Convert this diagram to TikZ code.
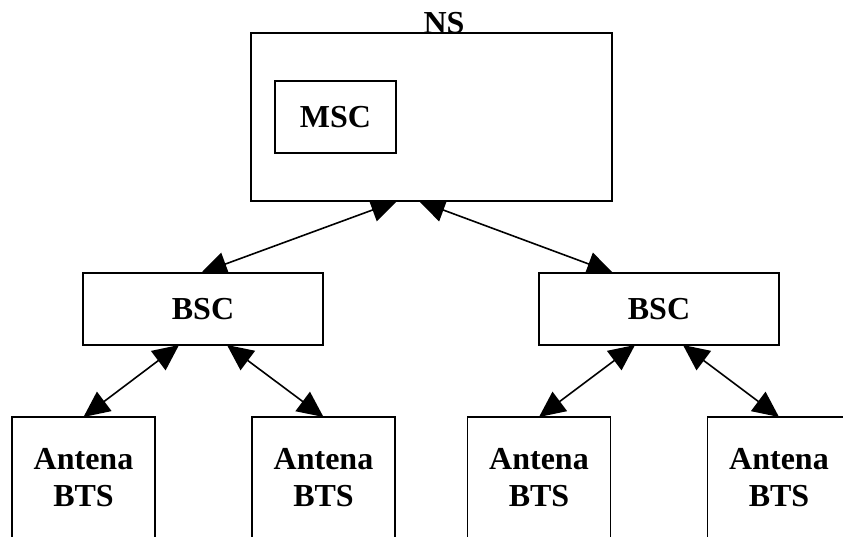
\documentclass[tikz,border=0pt]{standalone}
\usepackage{fontspec}
\setmainfont{Liberation Serif}
\usetikzlibrary{arrows.meta,backgrounds}

\begin{document}
\begin{tikzpicture}[x=1pt,y=-1pt,line width=1.5pt]
    \tikzset{box/.style={draw,rectangle,fill=white,inner sep=0pt,outer sep=0pt,
        font=\bfseries\fontsize{32}{37}\selectfont,align=center},
      link/.style={line width=1.6pt,{Triangle[length=26pt,width=24pt]}-{Triangle[length=26pt,width=24pt]}}}
    \useasboundingbox (0,0) rectangle (843,536);
    \node[box,minimum width=361pt,minimum height=168pt] (ns) at (431.5,117) {};
    \node[box,minimum width=121pt,minimum height=72pt] (msc) at (335.5,117) {MSC};
    \node[font=\bfseries\fontsize{32}{37}\selectfont,anchor=base,inner sep=0pt] (nslabel) at (444,33) {NS};
    \node[box,minimum width=240pt,minimum height=72pt] (bscl) at (203,309) {BSC};
    \node[box,minimum width=240pt,minimum height=72pt] (bscr) at (659,309) {BSC};
    \node[box,minimum width=143pt,minimum height=121pt] (bts1) at (83.5,477.5) {Antena\\BTS};
    \node[box,minimum width=143pt,minimum height=121pt] (bts2) at (323.5,477.5) {Antena\\BTS};
    \node[box,minimum width=143pt,minimum height=121pt] (bts3) at (539,477.5) {Antena\\BTS};
    \node[box,minimum width=143pt,minimum height=121pt] (bts4) at (779,477.5) {Antena\\BTS};
    \begin{pgfonlayer}{background}
    \path[link]
      ([xshift=-34.5pt]ns.south) edge ([xshift=-2pt]bscl.north)
      ([xshift=-12.5pt]ns.south) edge ([xshift=-46pt]bscr.north)
      ([xshift=-24pt]bscl.south) edge (bts1.north)
      ([xshift=24pt]bscl.south) edge (bts2.north)
      ([xshift=-24pt]bscr.south) edge (bts3.north)
      ([xshift=24pt]bscr.south) edge (bts4.north)
    ;
    \end{pgfonlayer}
  \end{tikzpicture}
\end{document}
